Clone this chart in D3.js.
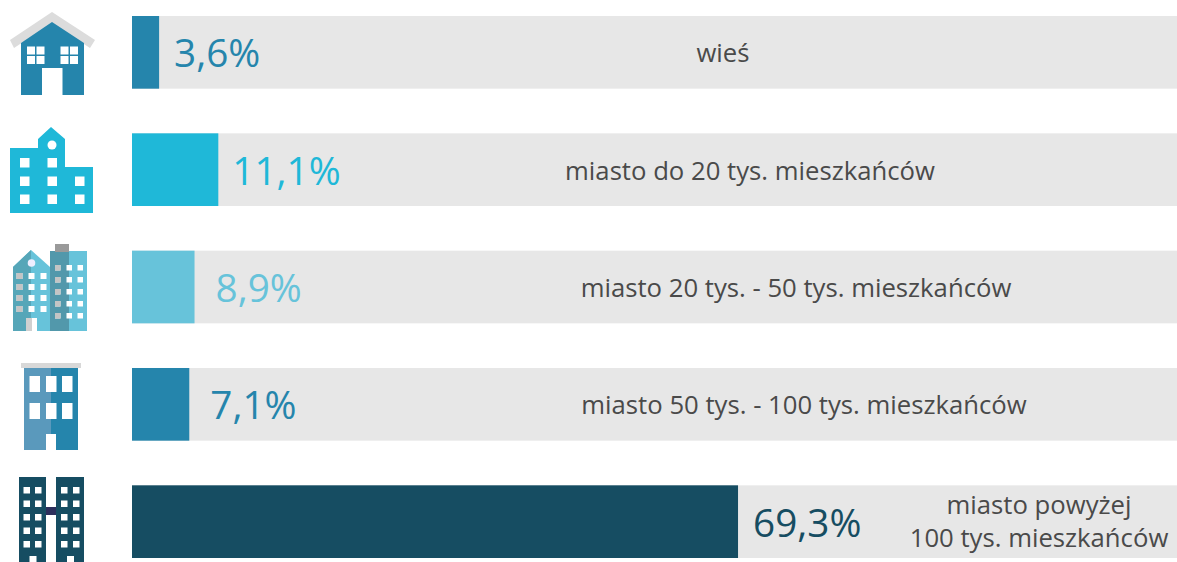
<!DOCTYPE html>
<html><head><meta charset="utf-8">
<script src="https://cdn.jsdelivr.net/npm/d3@7"></script>
<style>html,body{margin:0;padding:0;background:#fff}svg{display:block}</style></head>
<body><div id="c"></div>
<script>
// Data
const categories = [["wieś"],["miasto do 20 tys. mieszkańców"],["miasto 20 tys. - 50 tys. mieszkańców"],["miasto 50 tys. - 100 tys. mieszkańców"],["miasto powyżej","100 tys. mieszkańców"]];
const valueLabels = ["3,6%","11,1%","8,9%","7,1%","69,3%"];
// Drawn bar lengths (the source's bars are not strictly proportional to its labels)
const barLengths = [3.1,9.87,7.15,6.55,69.3];
const colors = ["#2585ac","#1fb8d8","#67c3da","#2585ac","#164d62"];
const labelCenters = [723,750,796,804,1039];
const valueGap = [15,14,21,21,15];

const W=1177,H=562;
const svg=d3.select("#c").append("svg").attr("width",W).attr("height",H);
const x=d3.scaleLinear().domain([0,100]).range([132,132+874.5]);
const y=d3.scaleBand().domain(d3.range(5)).range([16,558]).paddingInner(0.3806).paddingOuter(0);

const row=svg.selectAll("g.row").data(categories).join("g").attr("class","row");
row.append("rect").attr("x",132).attr("y",(d,i)=>y(i)).attr("width",W-132).attr("height",y.bandwidth()).attr("fill","#e7e7e7");
row.append("rect").attr("x",132).attr("y",(d,i)=>y(i)).attr("width",(d,i)=>x(barLengths[i])-132).attr("height",y.bandwidth()).attr("fill",(d,i)=>colors[i]);
row.append("text").attr("x",(d,i)=>x(barLengths[i])+valueGap[i]).attr("y",(d,i)=>y(i)+y.bandwidth()/2+15)
  .attr("font-family","'Open Sans',sans-serif").attr("font-size",38.7).attr("fill",(d,i)=>colors[i]).text((d,i)=>valueLabels[i]);
row.each(function(d,i){
  const g=d3.select(this), cy=y(i)+y.bandwidth()/2, n=d.length;
  d.forEach((t,k)=>{
    g.append("text").attr("x",labelCenters[i]).attr("y",cy+10+(k-(n-1)/2)*32.5-(n>1?1:0))
     .attr("text-anchor","middle").attr("font-family","'Open Sans',sans-serif").attr("font-size",25.7).attr("fill","#4a4a4a").text(t);
  });
});

// Icons
const ic=svg.append("g");
const poly=(pts,fill)=>ic.append("polygon").attr("points",pts.map(p=>p.join(",")).join(" ")).attr("fill",fill);
const box=(a,b,w,h,fill)=>ic.append("rect").attr("x",a).attr("y",b).attr("width",w).attr("height",h).attr("fill",fill);
const grid=(xs,ys,w,h,fill)=>xs.forEach(a=>ys.forEach(b=>box(a,b,w,h,fill)));
// house
poly([[52,12],[95,40],[90,48],[52,23],[14,48],[10,40]],"#dcdcdc");
poly([[21,43],[52,22],[84,43],[84,95],[62.5,95],[62.5,68],[42,68],[42,95],[21,95]],"#2585ac");
grid([27,36.5,60.5,70],[46.5,56],8,8,"#fff");
// town hall
poly([[10,148],[38,148],[38,139],[51,127],[65,139],[65,167],[93,167],[93,213],[10,213]],"#1fb8d8");
ic.append("circle").attr("cx",52).attr("cy",145).attr("r",4.5).attr("fill","#fff");
grid([20,47.5],[158,176.5,194.5],9.5,9.5,"#fff");
grid([75],[176.5,194.5],9.5,9.5,"#fff");
// two towers
poly([[13,267],[31,250],[50,267],[50,331],[13,331]],"#67c3da");
poly([[13,267],[31,250],[31,331],[13,331]],"#56a6b8");
box(50,251,37,80,"#67c3da");box(50,251,19,80,"#5298ab");box(55,244,14,8,"#9a9a9a");
ic.append("circle").attr("cx",31.5).attr("cy",263).attr("r",3.8).attr("fill","#eef");
grid([16.5,28.5,40.5],[273,284,295,306],6,6,"#fff");
grid([16.5],[273,284,295,306],6,6,"#c4c4c4");
grid([55,66.5,77.5],[265,277,289,301,313],5.5,5.5,"#fff");
grid([55],[265,277,289,301,313],5.5,5.5,"#c4c4c4");
box(26,318,6,13,"#d0d0d0");box(32,318,5,13,"#fff");
// block
box(21,363,60,5,"#d8d8d8");
box(24,368,54,82,"#2585ac");box(24,368,27,82,"#5a99bc");
grid([29.5,46,62],[376,403],10.5,16,"#fff");
box(46,434,10,16,"#fff");
// twin towers
box(46,507,10,8,"#2c2f5c");
box(19,477,27,85,"#164d62");box(56,477,28,85,"#164d62");
grid([23.5,35],[487,500.5,514,527.5,541],6.5,6.5,"#fff");
grid([61,73],[487,500.5,514,527.5,541],6.5,6.5,"#fff");
box(29.5,556,7,6,"#fff");box(67,556,7,6,"#fff");
</script></body></html>
